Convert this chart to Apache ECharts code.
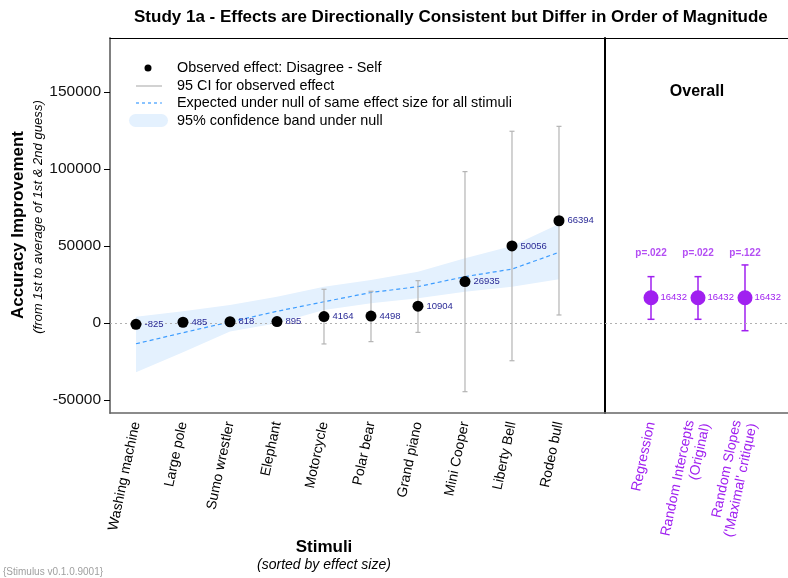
<!DOCTYPE html>
<html>
<head>
<meta charset="utf-8">
<script src="https://cdn.jsdelivr.net/npm/echarts@6/dist/echarts.min.js"></script>
<style>
  html, body { margin: 0; padding: 0; background: #fff; }
  #chart { width: 788px; height: 578px; }
</style>
</head>
<body>
<div id="chart"></div>
<script>
// Stimuli, sorted by observed effect size
const stimuli = ['Washing machine', 'Large pole', 'Sumo wrestler', 'Elephant', 'Motorcycle',
                 'Polar bear', 'Grand piano', 'Mini Cooper', 'Liberty Bell', 'Rodeo bull'];
// Observed effect (Disagree - Self) and its 95% CI
const observed = [-825, 485, 818, 895, 4164, 4498, 10904, 26935, 50056, 66394];
const ciLow    = [-2800, -600, -1900, -1100, -13600, -12100, -6100, -44600, -24500, 5200];
const ciHigh   = [1150, 1570, 3540, 2890, 21900, 20600, 27500, 98300, 124500, 127700];
// Expected effect under the null of one effect size for all stimuli, with 95% band
const nullExpected = [-13500, -6300, 700, 7600, 13800, 19800, 23600, 30100, 35000, 45900];
const nullLow      = [-32000, -19000, -5600, -200, 8400, 12800, 16000, 20300, 23600, 28400];
const nullHigh     = [4100, 7600, 11700, 17000, 23600, 27900, 33300, 42000, 50000, 64300];
// Overall estimates from the three models
const models = ['Regression', 'Random Intercepts\n(Original)', "Random Slopes\n('Maximal' critique)"];
const overallEffect = [16432, 16432, 16432];
const overallLow    = [2400, 2400, -5000];
const overallHigh   = [30100, 30100, 37700];
const pValues = ['p=.022', 'p=.022', 'p=.122'];
// Y axis ticks
const yTicks = [-50000, 0, 50000, 100000, 150000];

const FONT = 'Liberation Sans, Arial, sans-serif';
const PURPLE = '#A020F0';
const Y_MIN = -58442, Y_MAX = 185065;
const P_LABEL_Y = 45500;
const LABEL_ROTATE = 78;

const idx = stimuli.map((_, i) => i + 1);
const modelIdx = models.map((_, i) => i + 1);

function errorBars(color, width, cap) {
  return function (params, api) {
    const x = api.value(0);
    const top = api.coord([x, api.value(2)]);
    const bot = api.coord([x, api.value(1)]);
    const style = { stroke: color, lineWidth: width };
    return {
      type: 'group',
      children: [
        { type: 'line', shape: { x1: top[0], y1: top[1], x2: bot[0], y2: bot[1] }, style },
        { type: 'line', shape: { x1: top[0] - cap, y1: top[1], x2: top[0] + cap, y2: top[1] }, style },
        { type: 'line', shape: { x1: bot[0] - cap, y1: bot[1], x2: bot[0] + cap, y2: bot[1] }, style }
      ]
    };
  };
}

// Confidence band under the null: one polygon through the upper bounds and back along the lower bounds
function nullBand(params, api) {
  if (params.dataIndex !== 0) return null;
  const upper = idx.map((x, i) => api.coord([x, nullHigh[i]]));
  const lower = idx.map((x, i) => api.coord([x, nullLow[i]])).reverse();
  return {
    type: 'polygon',
    shape: { points: upper.concat(lower) },
    style: { fill: '#e4f1fe' }
  };
}

const zeroLine = {
  silent: true, symbol: 'none', label: { show: false },
  lineStyle: { type: [2, 3], color: '#b0b0b0', width: 1 },
  data: [{ yAxis: 0 }]
};

const yBase = {
  type: 'value', min: Y_MIN, max: Y_MAX, splitLine: { show: false }
};

const option = {
  animation: false,
  backgroundColor: '#fff',
  textStyle: { fontFamily: FONT },
  title: {
    text: 'Study 1a - Effects are Directionally Consistent but Differ in Order of Magnitude',
    left: 129, top: 4,
    textStyle: { fontSize: 17, fontWeight: 'bold', color: '#000', fontFamily: FONT }
  },
  grid: [
    { left: 110, top: 38, width: 495, height: 375 },
    { left: 605, top: 38, width: 183, height: 375 }
  ],
  xAxis: [
    {
      type: 'value', gridIndex: 0, min: 0.447, max: 10.979,
      axisLine: { show: true, onZero: false, lineStyle: { color: '#666', width: 1.5 } },
      axisTick: { show: false }, splitLine: { show: false },
      axisLabel: {
        customValues: idx, formatter: v => stimuli[Math.round(v) - 1],
        rotate: LABEL_ROTATE, fontSize: 14, color: '#000', margin: 9, fontFamily: FONT
      }
    },
    {
      type: 'value', gridIndex: 1, min: 0.0213, max: 3.915,
      axisLine: { show: true, onZero: false, lineStyle: { color: '#666', width: 1.5 } },
      axisTick: { show: false }, splitLine: { show: false },
      axisLabel: {
        customValues: modelIdx, formatter: v => models[Math.round(v) - 1],
        rotate: LABEL_ROTATE, fontSize: 14, color: PURPLE, margin: 9, lineHeight: 16, fontFamily: FONT
      }
    },
    {
      type: 'value', gridIndex: 0, position: 'top', min: 0, max: 1,
      axisLine: { show: true, onZero: false, lineStyle: { color: '#000', width: 1.2 } },
      axisTick: { show: false }, axisLabel: { show: false }, splitLine: { show: false }
    },
    {
      type: 'value', gridIndex: 1, position: 'top', min: 0, max: 1,
      axisLine: { show: true, onZero: false, lineStyle: { color: '#000', width: 1.2 } },
      axisTick: { show: false }, axisLabel: { show: false }, splitLine: { show: false }
    }
  ],
  yAxis: [
    Object.assign({}, yBase, {
      gridIndex: 0,
      axisLine: { show: true, onZero: false, lineStyle: { color: '#808080', width: 2 } },
      axisTick: { show: true, length: 6, customValues: yTicks, lineStyle: { color: '#000', width: 1 } },
      axisLabel: {
        customValues: yTicks, formatter: v => String(v),
        fontSize: 15.5, color: '#111', margin: 9, fontFamily: FONT
      }
    }),
    Object.assign({}, yBase, {
      gridIndex: 1,
      axisLine: { show: true, onZero: false, lineStyle: { color: '#000', width: 2 } },
      axisTick: { show: false }, axisLabel: { show: false }
    })
  ],
  series: [
    // 95% band under the null
    {
      type: 'custom', xAxisIndex: 0, yAxisIndex: 0, silent: true,
      data: idx.map((x, i) => [x, nullLow[i], nullHigh[i]]),
      encode: { x: 0, y: [1, 2] },
      renderItem: nullBand, z: 1
    },
    // expected under null
    {
      type: 'line', xAxisIndex: 0, yAxisIndex: 0, silent: true,
      data: idx.map((x, i) => [x, nullExpected[i]]),
      showSymbol: false, symbol: 'none',
      lineStyle: { color: '#3c9cff', width: 1.2, type: [4, 3] }, z: 3,
      markLine: zeroLine
    },
    // 95% CI of observed effects
    {
      type: 'custom', xAxisIndex: 0, yAxisIndex: 0, silent: true,
      data: idx.map((x, i) => [x, ciLow[i], ciHigh[i]]),
      encode: { x: 0, y: [1, 2] },
      renderItem: errorBars('#b4b4b4', 1.2, 2.5), z: 4
    },
    // observed effects
    {
      type: 'scatter', xAxisIndex: 0, yAxisIndex: 0,
      data: idx.map((x, i) => [x, observed[i]]),
      symbolSize: 11, itemStyle: { color: '#000', opacity: 1 }, z: 5,
      label: {
        show: true, position: 'right', distance: 3,
        formatter: p => String(p.value[1]), color: '#2a2a96', fontSize: 9.5, fontFamily: FONT
      }
    },
    // overall model CIs
    {
      type: 'custom', xAxisIndex: 1, yAxisIndex: 1, silent: true,
      data: modelIdx.map((x, i) => [x, overallLow[i], overallHigh[i]]),
      encode: { x: 0, y: [1, 2] },
      renderItem: errorBars(PURPLE, 1.5, 3.5), z: 4,
      markLine: zeroLine
    },
    // overall estimates
    {
      type: 'scatter', xAxisIndex: 1, yAxisIndex: 1,
      data: modelIdx.map((x, i) => [x, overallEffect[i]]),
      symbolSize: 15, itemStyle: { color: PURPLE, opacity: 1 }, z: 5,
      label: {
        show: true, position: 'right', distance: 2,
        formatter: p => String(p.value[1]), color: PURPLE, fontSize: 9.5, fontFamily: FONT
      }
    },
    // p-values above the estimates
    {
      type: 'scatter', xAxisIndex: 1, yAxisIndex: 1, silent: true,
      data: modelIdx.map(x => [x, P_LABEL_Y]),
      symbolSize: 0, z: 5,
      label: {
        show: true, position: 'inside',
        formatter: p => pValues[p.dataIndex], color: PURPLE, fontSize: 10,
        fontWeight: 'bold', fontFamily: FONT
      }
    }
  ],
  graphic: [
    // legend
    { type: 'circle', shape: { cx: 148, cy: 68, r: 3.5 }, style: { fill: '#000' } },
    { type: 'line', shape: { x1: 136, y1: 86, x2: 162, y2: 86 }, style: { stroke: '#b4b4b4', lineWidth: 1.2 } },
    { type: 'line', shape: { x1: 136, y1: 103, x2: 162, y2: 103 }, style: { stroke: '#3c9cff', lineWidth: 1.2, lineDash: [3, 3] } },
    { type: 'rect', shape: { x: 129, y: 114, width: 39, height: 13, r: 6.5 }, style: { fill: '#e4f1fe' } },
    { type: 'text', x: 177, y: 68, style: { text: 'Observed effect: Disagree - Self', font: '14.4px ' + FONT, fill: '#000', textVerticalAlign: 'middle' } },
    { type: 'text', x: 177, y: 86, style: { text: '95 CI for observed effect', font: '14.4px ' + FONT, fill: '#000', textVerticalAlign: 'middle' } },
    { type: 'text', x: 177, y: 103, style: { text: 'Expected under null of same effect size for all stimuli', font: '14.4px ' + FONT, fill: '#000', textVerticalAlign: 'middle' } },
    { type: 'text', x: 177, y: 121, style: { text: '95% confidence band under null', font: '14.4px ' + FONT, fill: '#000', textVerticalAlign: 'middle' } },
    // panel heading
    { type: 'text', x: 697, y: 92, style: { text: 'Overall', font: 'bold 16px ' + FONT, fill: '#000', textAlign: 'center', textVerticalAlign: 'middle' } },
    // axis titles
    { type: 'text', x: 18, y: 225, rotation: Math.PI / 2, style: { text: 'Accuracy Improvement', font: 'bold 17px ' + FONT, fill: '#000', textAlign: 'center', textVerticalAlign: 'middle' } },
    { type: 'text', x: 38, y: 217, rotation: Math.PI / 2, style: { text: '(from 1st to average of 1st & 2nd guess)', font: 'italic 13.1px ' + FONT, fill: '#000', textAlign: 'center', textVerticalAlign: 'middle' } },
    { type: 'text', x: 324, y: 547, style: { text: 'Stimuli', font: 'bold 17px ' + FONT, fill: '#000', textAlign: 'center', textVerticalAlign: 'middle' } },
    { type: 'text', x: 324, y: 565, style: { text: '(sorted by effect size)', font: 'italic 14px ' + FONT, fill: '#000', textAlign: 'center', textVerticalAlign: 'middle' } },
    // version footer
    { type: 'text', x: 3, y: 572, style: { text: '{Stimulus v0.1.0.9001}', font: '10px ' + FONT, fill: '#a0a0a0', textVerticalAlign: 'middle' } }
  ]
};

const chart = echarts.init(document.getElementById('chart'), null, { renderer: 'canvas' });
chart.setOption(option);
</script>
</body>
</html>
